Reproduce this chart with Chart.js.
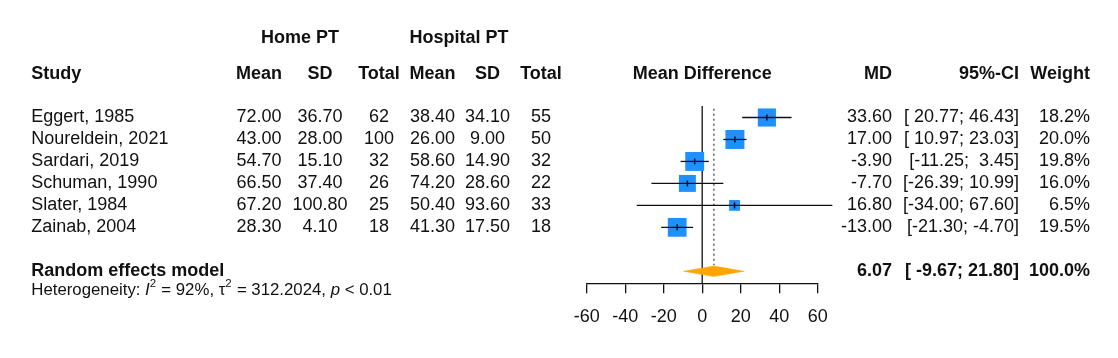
<!DOCTYPE html>
<html><head><meta charset="utf-8">
<script src="https://cdn.jsdelivr.net/npm/chart.js@4.4.0/dist/chart.umd.min.js"></script>
<style>html,body{margin:0;padding:0;background:#fff}#wrap{position:relative;width:1118px;height:358px}</style>
</head><body><div id="wrap"><canvas id="c"></canvas></div>
<script>
// ---------- data ----------
const studies   = ['Eggert, 1985','Noureldein, 2021','Sardari, 2019','Schuman, 1990','Slater, 1984','Zainab, 2004'];
const homeMean  = [72.00, 43.00, 54.70, 66.50, 67.20, 28.30];
const homeSD    = [36.70, 28.00, 15.10, 37.40, 100.80, 4.10];
const homeN     = [62, 100, 32, 26, 25, 18];
const hospMean  = [38.40, 26.00, 58.60, 74.20, 50.40, 41.30];
const hospSD    = [34.10, 9.00, 14.90, 28.60, 93.60, 17.50];
const hospN     = [55, 50, 32, 22, 33, 18];
const md        = [33.60, 17.00, -3.90, -7.70, 16.80, -13.00];
const ciLo      = [20.77, 10.97, -11.25, -26.39, -34.00, -21.30];
const ciHi      = [46.43, 23.03, 3.45, 10.99, 67.60, -4.70];
const weight    = [18.2, 20.0, 19.8, 16.0, 6.5, 19.5];
const pooledLabel = 'Random effects model';
const pooledMD  = [6.07];
const pooledLo  = [-9.67];
const pooledHi  = [21.80];
const pooledW   = [100.0];
const hetI2     = ['92%'];
const hetTau2   = ['312.2024'];
const hetP      = ['< 0.01'];
const xTicks    = [-60, -40, -20, 0, 20, 40, 60];
const groupHeaders = ['Home PT', 'Hospital PT'];
const colHeaders = ['Study','Mean','SD','Total','Mean','SD','Total','Mean Difference','MD','95%-CI','Weight'];

// ---------- style / layout ----------
const FONT = '"Liberation Sans", Arial, Helvetica, sans-serif';
const TXT = '#111';
const BLUE = 'rgb(30,144,255)';
const ORANGE = '#FFA500';
const FS = 18;
const ROW_POOLED = studies.length + 1;
const ROW_HET = ROW_POOLED + 0.86;
const DIAMOND_H = 0.235;
const REF_TOP = -0.52;
const DOT_BOTTOM = 6.72;

Chart.defaults.font.family = FONT;
Chart.defaults.color = TXT;

const fmt2 = v => v.toFixed(2);
const ciStr = (lo, hi) => '[' + fmt2(lo).padStart(6, ' ') + '; ' + fmt2(hi).padStart(5, ' ') + ']';
const sqSide = w => 4.25 * Math.sqrt(w);

const datasets = [];
// center tick marks (on top)
datasets.push({
  data: md.map((v, i) => ({x: v, y: i})),
  pointStyle: 'line', rotation: 90, pointRadius: 3, borderColor: TXT, borderWidth: 1.5,
  showLine: false, clip: false
});
// confidence interval lines
studies.forEach((s, i) => {
  datasets.push({
    data: [{x: ciLo[i], y: i}, {x: ciHi[i], y: i}],
    showLine: true, borderColor: TXT, borderWidth: 1.3, pointRadius: 0, clip: false
  });
});
// squares
datasets.push({
  data: md.map((v, i) => ({x: v, y: i})),
  pointStyle: 'rect', backgroundColor: BLUE, borderWidth: 0,
  pointRadius: ctx => sqSide(weight[ctx.dataIndex]) / Math.SQRT2,
  showLine: false, clip: false
});
// pooled diamond
datasets.push({
  data: [
    {x: pooledLo[0], y: ROW_POOLED},
    {x: pooledMD[0], y: ROW_POOLED - DIAMOND_H},
    {x: pooledHi[0], y: ROW_POOLED},
    {x: pooledMD[0], y: ROW_POOLED + DIAMOND_H},
    {x: pooledLo[0], y: ROW_POOLED}
  ],
  showLine: true, fill: 'shape', backgroundColor: ORANGE, borderColor: ORANGE, borderWidth: 0.5,
  pointRadius: 0, tension: 0, clip: false
});
// dotted line at pooled estimate
datasets.push({
  data: [{x: pooledMD[0], y: REF_TOP + 0.12}, {x: pooledMD[0], y: DOT_BOTTOM}],
  showLine: true, borderColor: '#555', borderWidth: 1.4, borderDash: [2, 3], pointRadius: 0, clip: false
});
// reference line at zero
datasets.push({
  data: [{x: 0, y: REF_TOP}, {x: 0, y: 7.547}],
  showLine: true, borderColor: TXT, borderWidth: 1.3, pointRadius: 0, clip: false
});

const textPlugin = {
  id: 'forestText',
  afterDraw(chart) {
    const ctx = chart.ctx;
    const ys = chart.scales.y;
    const Y = u => ys.getPixelForValue(u);
    const ca = chart.chartArea;
    ctx.save();
    ctx.fillStyle = TXT;
    ctx.textBaseline = 'middle';
    const put = (t, x, u, align, bold, size) => {
      ctx.font = (bold ? 'bold ' : '') + (size || FS) + 'px ' + FONT;
      ctx.textAlign = align;
      ctx.fillText(t, x, Y(u));
    };
    const cx = {m1: 259, s1: 320, n1: 379, m2: 432.5, s2: 487.5, n2: 541, md: 892, ci: 1019, w: 1090, name: 31.3};
    // group headers
    put(groupHeaders[0], 300, -3.6, 'center', true);
    put(groupHeaders[1], 459, -3.6, 'center', true);
    // column headers
    put(colHeaders[0], cx.name, -2, 'left', true);
    put(colHeaders[1], cx.m1, -2, 'center', true);
    put(colHeaders[2], cx.s1, -2, 'center', true);
    put(colHeaders[3], cx.n1, -2, 'center', true);
    put(colHeaders[4], cx.m2, -2, 'center', true);
    put(colHeaders[5], cx.s2, -2, 'center', true);
    put(colHeaders[6], cx.n2, -2, 'center', true);
    put(colHeaders[7], (ca.left + ca.right) / 2, -2, 'center', true);
    put(colHeaders[8], cx.md, -2, 'right', true);
    put(colHeaders[9], cx.ci, -2, 'right', true);
    put(colHeaders[10], cx.w, -2, 'right', true);
    // study rows
    studies.forEach((s, i) => {
      put(s, cx.name, i, 'left');
      put(fmt2(homeMean[i]), cx.m1, i, 'center');
      put(fmt2(homeSD[i]), cx.s1, i, 'center');
      put(String(homeN[i]), cx.n1, i, 'center');
      put(fmt2(hospMean[i]), cx.m2, i, 'center');
      put(fmt2(hospSD[i]), cx.s2, i, 'center');
      put(String(hospN[i]), cx.n2, i, 'center');
      put(fmt2(md[i]), cx.md, i, 'right');
      put(ciStr(ciLo[i], ciHi[i]), cx.ci, i, 'right');
      put(weight[i].toFixed(1) + '%', cx.w, i, 'right');
    });
    // pooled row
    put(pooledLabel, cx.name, ROW_POOLED, 'left', true);
    put(fmt2(pooledMD[0]), cx.md, ROW_POOLED, 'right', true);
    put(ciStr(pooledLo[0], pooledHi[0]), cx.ci, ROW_POOLED, 'right', true);
    put(pooledW[0].toFixed(1) + '%', cx.w, ROW_POOLED, 'right', true);
    // heterogeneity line
    const hs = 16.8, sup = 11.5;
    const segs = [
      {t: 'Heterogeneity: '},
      {t: 'I', it: true},
      {t: '2', sup: true},
      {t: ' = ' + hetI2[0] + ', '},
      {t: 'τ'},
      {t: '2', sup: true},
      {t: ' = ' + hetTau2[0] + ', '},
      {t: 'p', it: true},
      {t: ' ' + hetP[0]}
    ];
    let x = cx.name;
    const yb = Y(ROW_HET);
    ctx.textAlign = 'left';
    segs.forEach(sg => {
      ctx.font = (sg.it ? 'italic ' : '') + (sg.sup ? sup : hs) + 'px ' + FONT;
      ctx.fillText(sg.t, x, sg.sup ? yb - 6.5 : yb);
      x += ctx.measureText(sg.t).width + (sg.sup ? 0.5 : 0);
    });
    ctx.restore();
  }
};

new Chart(document.getElementById('c'), {
  type: 'scatter',
  data: {datasets},
  options: {
    responsive: true, maintainAspectRatio: false, animation: false, events: [],
    layout: {padding: {left: 586.7, right: 300.3, top: 100, bottom: 17.1}},
    plugins: {legend: {display: false}, tooltip: {enabled: false}},
    scales: {
      x: {
        type: 'linear', position: 'bottom', min: -60, max: 60,
        afterBuildTicks: sc => { sc.ticks = xTicks.map(v => ({value: v})); },
        ticks: {color: TXT, font: {size: FS, family: FONT}, padding: 13, maxRotation: 0, autoSkip: false},
        grid: {display: true, drawOnChartArea: false, drawTicks: true, tickLength: 10, color: TXT, lineWidth: 1.3},
        border: {display: true, color: TXT, width: 1.3}
      },
      y: {type: 'linear', display: false, reverse: true, min: -0.7965, max: 7.547}
    }
  },
  plugins: [textPlugin]
});
</script>
</body></html>
